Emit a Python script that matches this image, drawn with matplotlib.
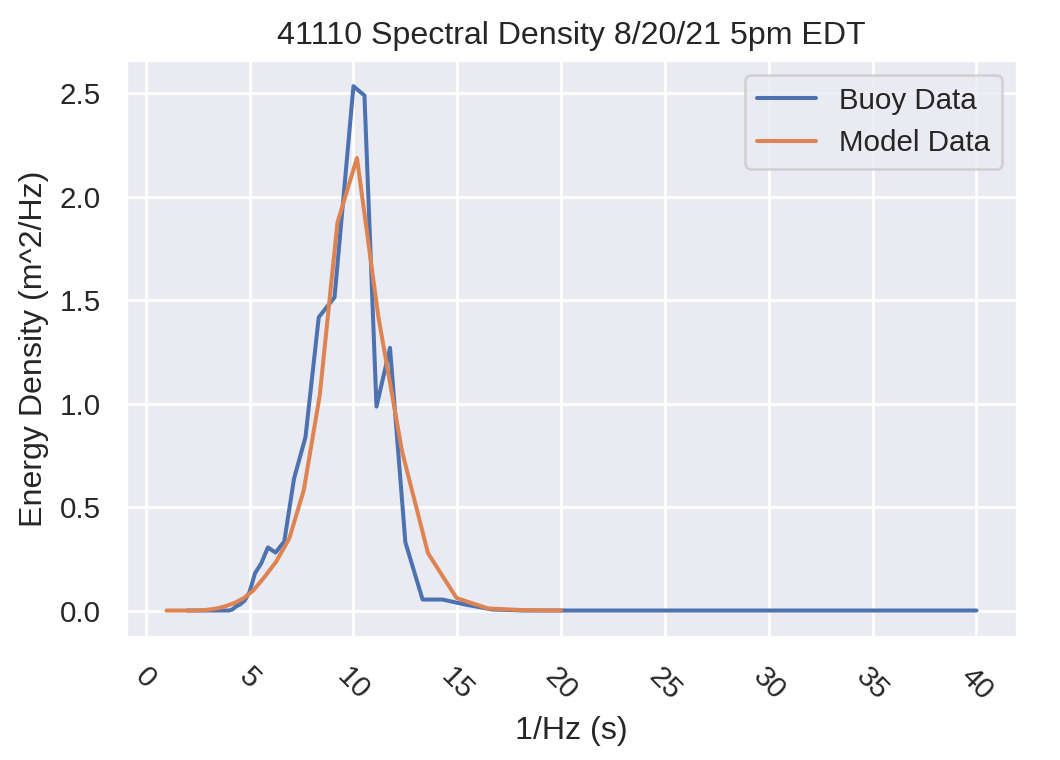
import matplotlib
matplotlib.use("Agg")
import matplotlib.pyplot as plt
import seaborn as sns

# buoy spectrum (period in s, energy density)
buoy_period = [40.0, 33.33, 28.57, 25.0, 22.22, 20.0, 18.18, 16.67, 15.38, 14.29,
               13.33, 12.5, 11.76, 11.11, 10.53, 10.0, 9.09, 8.33, 7.69, 7.14,
               6.67, 6.25, 5.88, 5.56, 5.26, 5.0, 4.76, 4.55, 4.35, 4.17,
               4.0, 3.85, 3.70, 3.57, 3.45, 3.33, 3.23, 3.13, 3.03, 2.94,
               2.86, 2.78, 2.70, 2.63, 2.56, 2.50, 2.44, 2.38, 2.33, 2.27,
               2.22, 2.17, 2.13, 2.08, 2.04, 2.0]
buoy_energy = [0.0, 0.0, 0.0, 0.0, 0.0, 0.0, 0.0, 0.005, 0.029, 0.053,
               0.053, 0.33, 1.27, 0.986, 2.49, 2.535, 1.514, 1.418, 0.838, 0.638,
               0.334, 0.28, 0.305, 0.228, 0.18, 0.09, 0.048, 0.03, 0.02, 0.005,
               0.0, 0.0, 0.0, 0.0, 0.0, 0.0, 0.0, 0.0, 0.0, 0.0,
               0.0, 0.0, 0.0, 0.0, 0.0, 0.0, 0.0, 0.0, 0.0, 0.0,
               0.0, 0.0, 0.0, 0.0, 0.0, 0.0]

# model spectrum
model_period = [20.0, 18.16, 16.48, 14.97, 13.59, 12.34, 11.20, 10.17, 9.23, 8.38,
                7.61, 6.91, 6.27, 5.70, 5.17, 4.69, 4.26, 3.87, 3.51, 3.19,
                2.90, 2.63, 2.39, 2.17, 1.97, 1.79, 1.62, 1.47, 1.34, 1.21,
                1.10, 1.0]
model_energy = [0.0, 0.002, 0.01, 0.06, 0.277, 0.77, 1.42, 2.188, 1.875, 1.042,
                0.582, 0.348, 0.235, 0.16, 0.096, 0.058, 0.036, 0.022, 0.012, 0.006,
                0.003, 0.001, 0.0, 0.0, 0.0, 0.0, 0.0, 0.0, 0.0, 0.0,
                0.0, 0.0]


def main():
    sns.set_theme(style="darkgrid")
    plt.rcParams['font.family'] = ['Liberation Sans', 'DejaVu Sans']
    colors = sns.color_palette("deep")

    dpi = 193
    fig = plt.figure(figsize=(1060 / dpi, 760 / dpi), dpi=dpi)
    ax = fig.add_axes([0.1189, 0.1622, 0.8405, 0.7589])

    ax.plot(buoy_period, buoy_energy, color=colors[0], label="Buoy Data")
    ax.plot(model_period, model_energy, color=colors[1], label="Model Data")

    ax.set_title("41110 Spectral Density 8/20/21 5pm EDT")
    ax.set_xlabel("1/Hz (s)")
    ax.set_ylabel("Energy Density (m^2/Hz)")
    ax.set_xticks(range(0, 41, 5))
    ax.set_yticks([0.0, 0.5, 1.0, 1.5, 2.0, 2.5])
    plt.setp(ax.get_xticklabels(), rotation=-45)
    ax.legend(loc="upper right")

    fig.savefig("out.png", dpi=dpi)


if __name__ == "__main__":
    main()
